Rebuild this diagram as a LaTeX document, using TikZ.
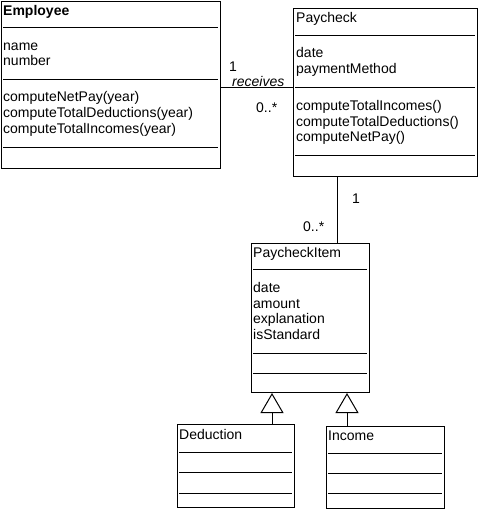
\documentclass[tikz,border=0pt]{standalone}
\usepackage{fontspec}
\setmainfont{Liberation Sans}
\usetikzlibrary{arrows.meta}

\tikzset{
  classbox/.style={draw, line width=1pt, rectangle, inner sep=0pt, anchor=north west},
  member/.style={anchor=base west, inner sep=0pt, font=\fontsize{14}{16}\selectfont},
  title/.style={member, font=\bfseries\fontsize{14}{16}\selectfont},
  rolename/.style={member, font=\itshape\fontsize{14}{16}\selectfont},
  divider/.style={line width=1pt},
  assoc/.style={line width=1pt},
  inherit/.style={line width=1pt, -{Triangle[open, length=20pt, width=23pt]}},
}

\begin{document}
\begin{tikzpicture}[x=1pt,y=-1pt]
			\useasboundingbox (0,0) rectangle (478,510);

			% Employee
			\node[classbox, minimum width=219pt, minimum height=167pt] (employee) at (1,1) {};
			\draw (3,16) node[title] (emp-name) {Employee};
			\draw[divider] (3,28) -- (218,28);
			\draw (3,51) node[member] (emp-a1) {name};
			\draw (3,66) node[member] (emp-a2) {number};
			\draw[divider] (3,80) -- (218,80);
			\draw (3,102) node[member] (emp-m1) {computeNetPay(year)};
			\draw (3,118) node[member] (emp-m2) {computeTotalDeductions(year)};
			\draw (3,134) node[member] (emp-m3) {computeTotalIncomes(year)};
			\draw[divider] (3,148) -- (218,148);

			% Paycheck
			\node[classbox, minimum width=184pt, minimum height=168pt] (paycheck) at (293,8) {};
			\draw (296,23) node[member] (pay-name) {Paycheck};
			\draw[divider] (295,36) -- (475,36);
			\draw (296,58) node[member] (pay-a1) {date};
			\draw (296,74) node[member] (pay-a2) {paymentMethod};
			\draw[divider] (295,88) -- (475,88);
			\draw (296,111) node[member] (pay-m1) {computeTotalIncomes()};
			\draw (296,127) node[member] (pay-m2) {computeTotalDeductions()};
			\draw (296,142) node[member] (pay-m3) {computeNetPay()};
			\draw[divider] (295,156) -- (475,156);

			% PaycheckItem
			\node[classbox, minimum width=118pt, minimum height=149pt] (item) at (251,243) {};
			\draw (253,257) node[member] (item-name) {PaycheckItem};
			\draw[divider] (253,269) -- (367,269);
			\draw (253,292) node[member] (item-a1) {date};
			\draw (253,308) node[member] (item-a2) {amount};
			\draw (253,323) node[member] (item-a3) {explanation};
			\draw (253,339) node[member] (item-a4) {isStandard};
			\draw[divider] (253,353) -- (367,353);
			\draw[divider] (253,373) -- (367,373);

			% Deduction
			\node[classbox, minimum width=117pt, minimum height=83pt] (deduction) at (177,424) {};
			\draw (179,439) node[member] (ded-name) {Deduction};
			\draw[divider] (179,452) -- (292,452);
			\draw[divider] (179,472) -- (292,472);
			\draw[divider] (179,493) -- (292,493);

			% Income
			\node[classbox, minimum width=118pt, minimum height=82pt] (income) at (326,426) {};
			\draw (328,440) node[member] (inc-name) {Income};
			\draw[divider] (328,453) -- (442,453);
			\draw[divider] (328,473) -- (442,473);
			\draw[divider] (328,493) -- (442,493);

			% associations
			\coordinate (recv) at (250,88);
			\draw[assoc] (recv -| employee.east) -- (recv -| paycheck.west);
			\draw (229,72) node[member] (recv-one) {1};
			\draw (232,87) node[rolename] (recv-role) {receives};
			\draw (256,113) node[member] (recv-many) {0..*};

			\coordinate (items) at (337,200);
			\draw[assoc] (items |- paycheck.south) -- (items |- item.north);
			\draw (352,204) node[member] (items-one) {1};
			\draw (303,232) node[member] (items-many) {0..*};

			% generalizations
			\coordinate (ded-up) at (272,424);
			\draw[inherit] (ded-up |- deduction.north) -- (ded-up |- item.south);
			\coordinate (inc-up) at (347,426);
			\draw[inherit] (inc-up |- income.north) -- (inc-up |- item.south);
		\end{tikzpicture}
\end{document}
